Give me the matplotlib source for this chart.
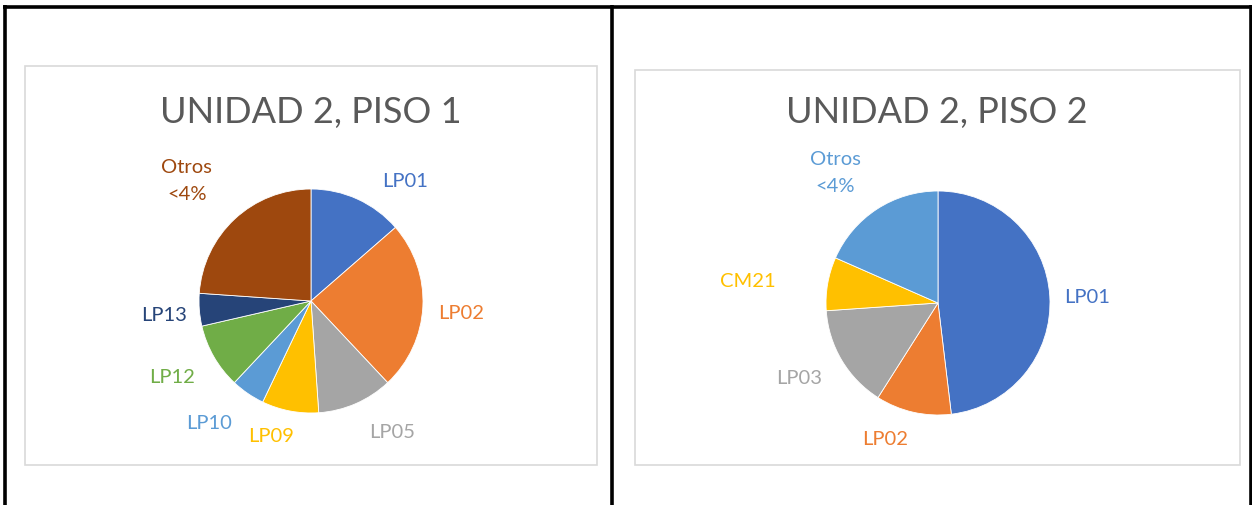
import matplotlib
matplotlib.use("Agg")
import matplotlib.pyplot as plt
from matplotlib.patches import Rectangle

plt.rcParams['font.family'] = ['Lato', 'DejaVu Sans']

# piso 1
labels_p1 = ['LP01', 'LP02', 'LP05', 'LP09', 'LP10', 'LP12', 'LP13', 'Otros\n<4%']
values_p1 = [13.6, 24.4, 10.9, 8.2, 4.9, 9.4, 4.7, 23.9]
colors_p1 = ['#4472C4', '#ED7D31', '#A5A5A5', '#FFC000', '#5B9BD5', '#70AD47', '#264478', '#9E480E']

# piso 2
labels_p2 = ['LP01', 'LP02', 'LP03', 'CM21', 'Otros\n<4%']
values_p2 = [48.1, 10.9, 14.9, 7.7, 18.4]
colors_p2 = ['#4472C4', '#ED7D31', '#A5A5A5', '#FFC000', '#5B9BD5']

# where each label sits, in pie radii from the centre
label_pos_p1 = [(0.84, 1.07), (1.34, -0.11), (0.72, -1.17), (-0.36, -1.21),
                (-0.91, -1.09), (-1.24, -0.68), (-1.31, -0.13), (-1.11, 1.07)]
label_pos_p2 = [(1.33, 0.05), (-0.47, -1.22), (-1.24, -0.67), (-1.70, 0.19), (-0.92, 1.16)]

W, H = 1252, 505
fig = plt.figure(figsize=(W / 100, H / 100), dpi=100)
fig.patch.set_facecolor('white')

# pixel-space overlay for frames and titles
bg = fig.add_axes([0, 0, 1, 1])
bg.set_xlim(0, W)
bg.set_ylim(H, 0)
bg.axis('off')

# table borders
for x in (4.5, 611.5, 1250.5):
    bg.plot([x, x], [5, H], color='black', lw=2.6, solid_capstyle='butt')
bg.plot([3, W], [6.5, 6.5], color='black', lw=2.6, solid_capstyle='butt')

# chart areas
bg.add_patch(Rectangle((25, 66), 572, 399, fill=False, ec='#D9D9D9', lw=1.2))
bg.add_patch(Rectangle((635, 70), 605, 395, fill=False, ec='#D9D9D9', lw=1.2))

bg.text(311, 112, 'UNIDAD 2, PISO 1', ha='center', va='center', fontsize=26, color='#595959')
bg.text(937, 113, 'UNIDAD 2, PISO 2', ha='center', va='center', fontsize=26, color='#595959')

R = 112  # pie radius in pixels


def draw_pie(cx, cy, values, colors, labels, label_pos):
    xr, yr = 2.2, 1.75
    ax = fig.add_axes([(cx - xr * R) / W, (H - cy - yr * R) / H, 2 * xr * R / W, 2 * yr * R / H])
    ax.pie(values, colors=colors, startangle=90, counterclock=False, radius=1,
           wedgeprops=dict(edgecolor='white', linewidth=0.6))
    ax.set_xlim(-xr, xr)
    ax.set_ylim(-yr, yr)
    ax.set_aspect('auto')
    ax.axis('off')
    for lab, (lx, ly), c in zip(labels, label_pos, colors):
        ax.text(lx, ly, lab, ha='center', va='center', fontsize=14.5, color=c, linespacing=1.75)


draw_pie(311, 301, values_p1, colors_p1, labels_p1, label_pos_p1)
draw_pie(938, 303, values_p2, colors_p2, labels_p2, label_pos_p2)

fig.savefig('out.png', dpi=100)
